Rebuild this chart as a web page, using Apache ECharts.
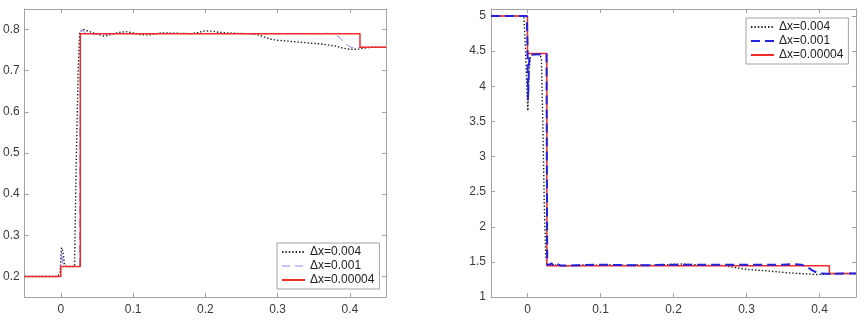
<!DOCTYPE html>
<html>
<head>
<meta charset="utf-8">
<script src="https://cdn.jsdelivr.net/npm/echarts@6/dist/echarts.min.js"></script>
<style>
  html, body { margin: 0; padding: 0; background: #fff; }
  #chart { width: 866px; height: 330px; }
</style>
</head>
<body>
<div id="chart"></div>
<script>
// tick labels
const xTicks = [0, 0.1, 0.2, 0.3, 0.4];
const yTicksLeft = [0.2, 0.3, 0.4, 0.5, 0.6, 0.7, 0.8];
const yTicksRight = [1, 1.5, 2, 2.5, 3, 3.5, 4, 4.5, 5];
const names = ['\u0394x=0.004', '\u0394x=0.001', '\u0394x=0.00004'];

// left panel
const leftX004 = [-0.05, -0.004, -0.001, 0.001, 0.003, 0.005, 0.008, 0.019, 0.021, 0.024, 0.026, 0.03, 0.04, 0.05, 0.06, 0.07, 0.08, 0.09, 0.1, 0.11, 0.12, 0.13, 0.14, 0.16, 0.18, 0.19, 0.2, 0.21, 0.22, 0.24, 0.26, 0.27, 0.28, 0.29, 0.3, 0.32, 0.34, 0.36, 0.38, 0.39, 0.4, 0.41, 0.42, 0.43, 0.45];
const leftY004 = [0.2, 0.2, 0.21, 0.27, 0.26, 0.23, 0.224, 0.224, 0.45, 0.7, 0.79, 0.801, 0.795, 0.789, 0.784, 0.788, 0.793, 0.795, 0.792, 0.788, 0.787, 0.789, 0.792, 0.791, 0.79, 0.793, 0.797, 0.796, 0.793, 0.791, 0.79, 0.789, 0.783, 0.777, 0.774, 0.771, 0.768, 0.765, 0.76, 0.755, 0.752, 0.752, 0.755, 0.757, 0.757];
const leftX001 = [-0.05, -0.001, 0.001, 0.003, 0.005, 0.026, 0.027, 0.029, 0.032, 0.036, 0.04, 0.05, 0.06, 0.08, 0.1, 0.15, 0.2, 0.25, 0.3, 0.35, 0.365, 0.377, 0.385, 0.392, 0.4, 0.408, 0.415, 0.45];
const leftY001 = [0.2, 0.2, 0.26, 0.23, 0.224, 0.224, 0.79, 0.8, 0.795, 0.79, 0.79, 0.788, 0.789, 0.791, 0.79, 0.791, 0.79, 0.79, 0.79, 0.79, 0.791, 0.79, 0.782, 0.768, 0.758, 0.754, 0.757, 0.757];
const leftX00004 = [-0.05, 0, 0, 0.027, 0.027, 0.414, 0.414, 0.45];
const leftY00004 = [0.2, 0.2, 0.224, 0.224, 0.79, 0.79, 0.757, 0.757];

// right panel
const rightX004 = [-0.05, -0.005, -0.003, -0.001, 0.0005, 0.002, 0.004, 0.007, 0.017, 0.019, 0.021, 0.023, 0.025, 0.027, 0.035, 0.05, 0.07, 0.09, 0.11, 0.13, 0.15, 0.17, 0.19, 0.21, 0.23, 0.25, 0.27, 0.278, 0.29, 0.301, 0.33, 0.356, 0.38, 0.397, 0.41, 0.42, 0.45];
const rightY004 = [5, 5, 4.6, 4.0, 3.65, 4.2, 4.42, 4.45, 4.45, 4.4, 3.5, 2.3, 1.6, 1.45, 1.46, 1.44, 1.46, 1.45, 1.46, 1.45, 1.46, 1.45, 1.46, 1.47, 1.46, 1.45, 1.45, 1.43, 1.41, 1.393, 1.37, 1.345, 1.33, 1.32, 1.325, 1.33, 1.335];
const rightX001 = [-0.05, -0.001, 0, 0.0007, 0.002, 0.003, 0.026, 0.027, 0.03, 0.033, 0.036, 0.04, 0.045, 0.06, 0.1, 0.15, 0.2, 0.25, 0.3, 0.35, 0.365, 0.375, 0.383, 0.39, 0.396, 0.402, 0.41, 0.45];
const rightY001 = [5, 5, 4.6, 3.8, 4.3, 4.45, 4.46, 1.46, 1.46, 1.48, 1.44, 1.47, 1.45, 1.45, 1.46, 1.45, 1.46, 1.46, 1.46, 1.46, 1.468, 1.46, 1.43, 1.38, 1.35, 1.335, 1.33, 1.335];
const rightX00004 = [-0.05, 0, 0, 0.0265, 0.0265, 0.4135, 0.4135, 0.45];
const rightY00004 = [5, 5, 4.465, 4.465, 1.445, 1.445, 1.335, 1.335];

const zip = (xs, ys) => xs.map((x, i) => [x, ys[i]]);

const chart = echarts.init(document.getElementById('chart'));
const font = "'Liberation Sans', Arial, Helvetica, sans-serif";
const boxColor = '#a3a3a3';
const textColor = '#3a3a3a';

const styleDot = { color: '#1e1e1e', width: 1.4, type: [1.4, 2], cap: 'butt' };
const styleDashLeft = { color: '#8c8cf5', width: 1, type: [8, 5] };
const styleDashRight = { color: '#2222e0', width: 2, type: [9, 5] };
const styleRed = { color: '#f22a2a', width: 1.5, type: 'solid' };
const hiddenMarker = { color: 'transparent', borderWidth: 0, opacity: 0 };

function xAxisFor(grid, pos) {
  const bottom = pos === 'bottom';
  return {
    type: 'value', gridIndex: grid, position: pos, min: -0.05, max: 0.45,
    axisLine: { show: true, onZero: false, lineStyle: { color: boxColor, width: 1 } },
    axisTick: { show: true, inside: true, length: 4, customValues: xTicks, lineStyle: { color: boxColor } },
    axisLabel: { show: bottom, customValues: xTicks, margin: 7, color: textColor, fontSize: 12, fontFamily: font },
    splitLine: { show: false }
  };
}
function yAxisFor(grid, pos, min, max, ticks) {
  const left = pos === 'left';
  return {
    type: 'value', gridIndex: grid, position: pos, min: min, max: max,
    axisLine: { show: true, onZero: false, lineStyle: { color: boxColor, width: 1 } },
    axisTick: { show: true, inside: true, length: 4, customValues: ticks, lineStyle: { color: boxColor } },
    axisLabel: { show: left, customValues: ticks, margin: 5, color: textColor, fontSize: 12, fontFamily: font },
    splitLine: { show: false }
  };
}
function lineSeries(name, data, xi, yi, style, z) {
  return {
    name: name, type: 'line', data: data, xAxisIndex: xi, yAxisIndex: yi,
    symbol: 'none', lineStyle: style, itemStyle: { color: style.color },
    animation: false, z: z
  };
}
function legendFor(left, top, dashStyle) {
  return {
    orient: 'vertical', left: left, top: top,
    data: [
      { name: names[0] },
      { name: names[1], lineStyle: dashStyle },
      { name: names[2] }
    ],
    itemWidth: 23, itemHeight: 10, itemGap: 2,
    itemStyle: hiddenMarker,
    padding: [3, 5, 3, 4],
    backgroundColor: '#fff', borderColor: boxColor, borderWidth: 1, borderRadius: 0,
    textStyle: { fontSize: 12, fontFamily: font, color: '#222', lineHeight: 12 },
    selectedMode: false
  };
}

chart.setOption({
  animation: false,
  backgroundColor: '#fff',
  grid: [
    { left: 21, top: 9, width: 365, height: 288 },
    { left: 491, top: 9, width: 365, height: 288 }
  ],
  xAxis: [xAxisFor(0, 'bottom'), xAxisFor(0, 'top'), xAxisFor(1, 'bottom'), xAxisFor(1, 'top')],
  yAxis: [
    yAxisFor(0, 'left', 0.15, 0.85, yTicksLeft), yAxisFor(0, 'right', 0.15, 0.85, yTicksLeft),
    yAxisFor(1, 'left', 1, 5.1, yTicksRight), yAxisFor(1, 'right', 1, 5.1, yTicksRight)
  ],
  legend: [legendFor(277, 243, styleDashLeft), legendFor(746, 18, styleDashRight)],
  series: [
    lineSeries(names[0], zip(leftX004, leftY004), 0, 0, styleDot, 2),
    lineSeries(names[1], zip(leftX001, leftY001), 0, 0, styleDashLeft, 3),
    lineSeries(names[2], zip(leftX00004, leftY00004), 0, 0, styleRed, 4),
    lineSeries(names[0], zip(rightX004, rightY004), 2, 2, styleDot, 2),
    lineSeries(names[2], zip(rightX00004, rightY00004), 2, 2, styleRed, 3),
    lineSeries(names[1], zip(rightX001, rightY001), 2, 2, styleDashRight, 4)
  ]
});
</script>
</body>
</html>
